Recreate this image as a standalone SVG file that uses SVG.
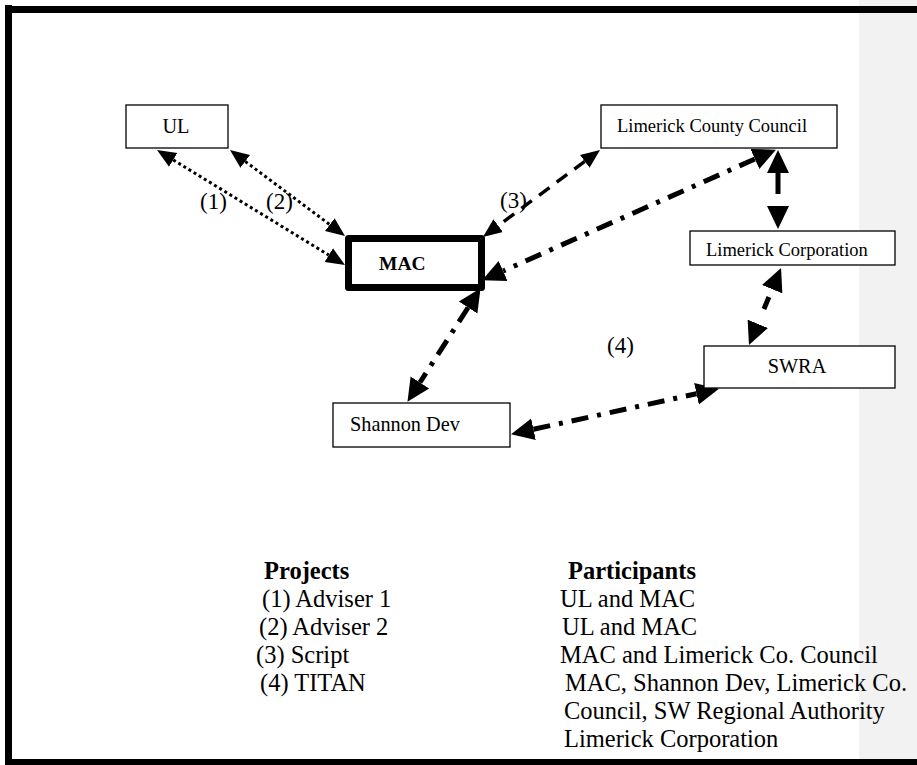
<svg xmlns="http://www.w3.org/2000/svg" width="917" height="765" viewBox="0 0 917 765">
<style>
.box{fill:#fff;stroke:#000;stroke-width:1.3}
.mac{fill:#fff;stroke:#000;stroke-width:7;stroke-linejoin:round}
.lbl{font-family:"Liberation Serif","Times New Roman",serif;font-size:18.5px;fill:#000}
.big{font-size:20.3px}
.num{font-family:"Liberation Serif","Times New Roman",serif;font-size:23px;fill:#000}
.leg{font-family:"Liberation Serif","Times New Roman",serif;font-size:24.5px;fill:#000}
.hd{font-weight:bold}
.dot{fill:none;stroke:#000;stroke-width:3;stroke-dasharray:3 3;marker-start:url(#as);marker-end:url(#as)}
.dash{fill:none;stroke:#000;stroke-width:3.5;stroke-dasharray:13 9;marker-start:url(#as);marker-end:url(#as)}
.dd{fill:none;stroke:#000;stroke-width:5;stroke-dasharray:17 9 4 9;marker-start:url(#al);marker-end:url(#al)}
.sol{fill:none;stroke:#000;stroke-width:5;marker-start:url(#al);marker-end:url(#al)}
</style>
<defs>
<marker id="as" markerUnits="userSpaceOnUse" viewBox="0 -9 20 18" refX="0" refY="0" markerWidth="20" markerHeight="18" orient="auto-start-reverse"><path d="M0,-8 L19,0 L0,8 Z" fill="#000"/></marker>
<marker id="al" markerUnits="userSpaceOnUse" viewBox="0 -12 24 24" refX="0" refY="0" markerWidth="24" markerHeight="24" orient="auto-start-reverse"><path d="M0,-11 L23,0 L0,11 Z" fill="#000"/></marker>
</defs>
<rect x="859" y="0" width="58" height="765" fill="#f2f2f2"/>
<g id="frame" fill="#000">
<rect x="5" y="6" width="912" height="7"/>
<rect x="5" y="5" width="7" height="760"/>
<rect x="5" y="759" width="912" height="6"/>
</g>
<g id="connectors">
<path class="dot" d="M173.2,159.9 L328.8,255.1"/>
<path class="dot" d="M245.2,161.4 L329.8,224.6"/>
<path class="dash" d="M584.8,161.3 L498.2,225.7"/>
<path class="dd" d="M754.9,159 L503.1,271"/>
<path class="sol" d="M778,173 L778,206" style="stroke-dasharray:21 100"/>
<path class="sol" d="M772.2,289.2 L757.8,323.8" style="stroke-dasharray:0 8.5 13 100"/>
<path class="dd" d="M468.1,307.5 L419.9,382.5"/>
<path class="dd" d="M533.5,429.3 L696.5,393.7"/>
</g>
<g id="node-ul"><rect class="box" x="126" y="105" width="102" height="43"/><text class="lbl big" x="176" y="133" text-anchor="middle">UL</text></g>
<g id="node-lcc"><rect class="box" x="601" y="105" width="236" height="43"/><text class="lbl" x="617" y="132">Limerick County Council</text></g>
<g id="node-mac"><rect class="mac" x="348.5" y="238.5" width="133" height="49"/><text class="lbl hd" x="379" y="270" style="font-size:19.5px">MAC</text></g>
<g id="node-lcorp"><rect class="box" x="690" y="231" width="205" height="34"/><text class="lbl" x="706" y="256">Limerick Corporation</text></g>
<g id="node-swra"><rect class="box" x="704" y="346" width="191" height="42"/><text class="lbl big" x="797" y="373" text-anchor="middle">SWRA</text></g>
<g id="node-shannon"><rect class="box" x="333" y="403" width="177" height="44"/><text class="lbl big" x="350" y="431">Shannon Dev</text></g>
<g id="labels">
<text class="num" x="200" y="209">(1)</text>
<text class="num" x="266" y="209">(2)</text>
<text class="num" x="500" y="208">(3)</text>
<text class="num" x="607" y="353">(4)</text>
</g>
<g id="legend">
<text class="leg hd" x="264" y="579">Projects</text>
<text class="leg" x="262" y="607">(1) Adviser 1</text>
<text class="leg" x="259" y="635">(2) Adviser 2</text>
<text class="leg" x="256" y="663">(3) Script</text>
<text class="leg" x="260" y="691">(4) TITAN</text>
<text class="leg hd" x="568" y="579">Participants</text>
<text class="leg" x="560" y="607">UL and MAC</text>
<text class="leg" x="562" y="635">UL and MAC</text>
<text class="leg" x="560" y="663">MAC and Limerick Co. Council</text>
<text class="leg" x="565" y="691">MAC, Shannon Dev, Limerick Co.</text>
<text class="leg" x="564" y="719">Council, SW Regional Authority</text>
<text class="leg" x="564" y="747">Limerick Corporation</text>
</g>
</svg>
